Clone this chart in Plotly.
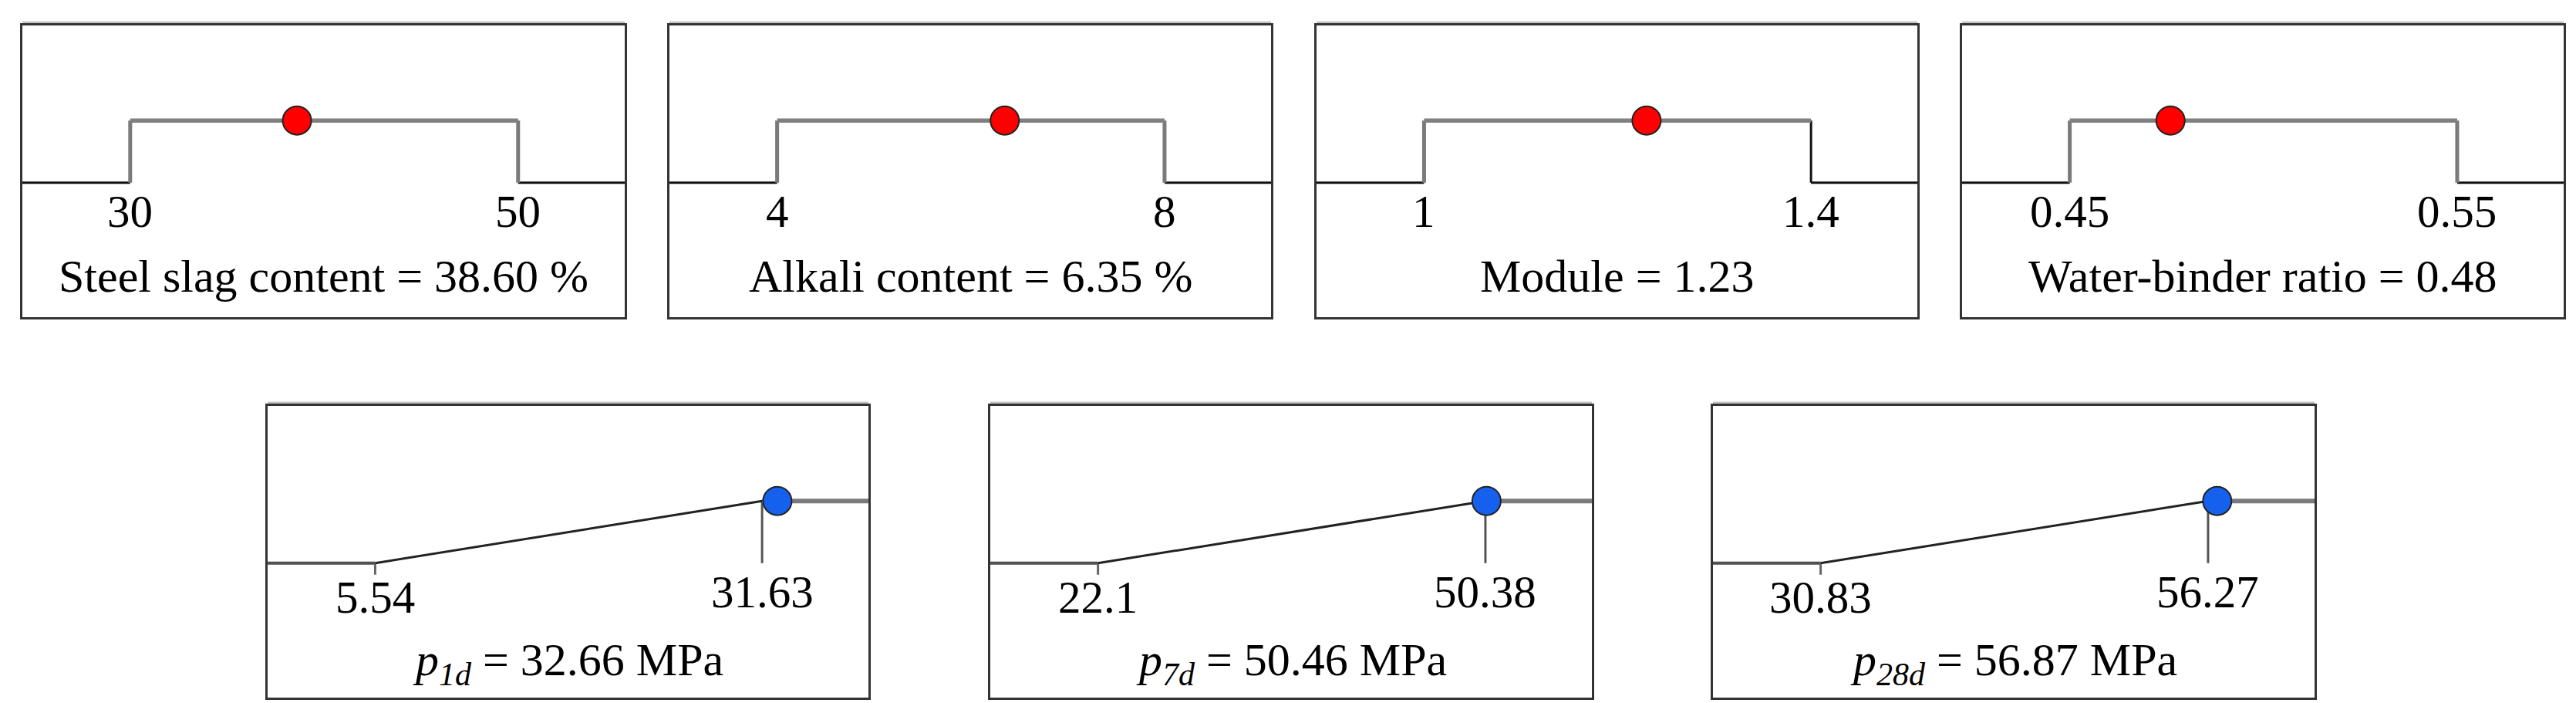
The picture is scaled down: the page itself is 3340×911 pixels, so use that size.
import plotly.graph_objects as go

# ---------------- data ----------------
factor_names = ["Steel slag content", "Alkali content", "Module", "Water-binder ratio"]
factor_low = [30, 4, 1, 0.45]
factor_high = [50, 8, 1.4, 0.55]
factor_low_labels = ["30", "4", "1", "0.45"]
factor_high_labels = ["50", "8", "1.4", "0.55"]
factor_opt = [38.60, 6.35, 1.23, 0.476]
factor_opt_labels = ["38.60", "6.35", "1.23", "0.48"]
factor_units = [" %", " %", "", ""]

response_subs = ["1d", "7d", "28d"]
response_low = [5.54, 22.1, 30.83]
response_high = [31.63, 50.38, 56.27]
response_low_labels = ["5.54", "22.1", "30.83"]
response_high_labels = ["31.63", "50.38", "56.27"]
response_pred = [32.66, 50.46, 56.87]
response_pred_labels = ["32.66", "50.46", "56.87"]
response_unit = " MPa"

desir_low = 0
desir_high = 1

# ---------------- layout geometry / styles ----------------
W, H = 3340, 911
top_boxes = [(21, 802), (860, 1640), (1699, 2478), (2536, 3316)]
top_y = (25, 403)
bot_boxes = [(339, 1118), (1276, 2056), (2213, 2993)]
bot_y = (518, 896)
F1, F2 = 0.179, 0.823          # where low/high limits sit inside the box
YLO, YHI = 0.461, 0.674         # where desirability 0/1 sit inside the box
yspan = (desir_high - desir_low) / (YHI - YLO)
ymin = desir_low - YLO * yspan
ymax = ymin + yspan

FONT = "Liberation Serif, Times New Roman, serif"
FS_TICK = 59
FS_TITLE = 60
RED = "#FF0000"
BLUE = "#1660EE"
rise_colors = ["#7a7a7a", "#7a7a7a", "#7a7a7a", "#7a7a7a"]
fall_colors = ["#7a7a7a", "#7a7a7a", "#111111", "#7a7a7a"]
fall_widths = [5, 5, 3, 5]


def xrange_for(lo, hi):
    span = (hi - lo) / (F2 - F1)
    xmin = lo - F1 * span
    return xmin, xmin + span


fig = go.Figure()
layout = dict(
    width=W, height=H, margin=dict(l=0, r=0, t=0, b=0),
    paper_bgcolor="white", plot_bgcolor="white", showlegend=False,
    font=dict(family=FONT, color="black"),
)
annotations = []
shapes = []


def sfx(i):
    return "" if i == 1 else str(i)


def add_axes(i, box, ybox, xr):
    ax = dict(showgrid=False, zeroline=False, showticklabels=False, ticks="",
              showline=True, mirror=True, linecolor="#333333", linewidth=3,
              fixedrange=True)
    layout["xaxis" + sfx(i)] = dict(ax, domain=[box[0] / W, box[1] / W], range=list(xr),
                                    anchor="y" + sfx(i))
    layout["yaxis" + sfx(i)] = dict(ax, domain=[1 - ybox[1] / H, 1 - ybox[0] / H],
                                    range=[ymin, ymax], anchor="x" + sfx(i))
    # light shadow band above the top border
    shapes.append(dict(type="line", xref="x" + sfx(i) + " domain", yref="y" + sfx(i) + " domain",
                       ysizemode="pixel", yanchor=1, x0=0, x1=1, y0=4, y1=4,
                       line=dict(color="#c4c4c4", width=3), layer="below"))


def line(i, xs, ys, color, width):
    fig.add_trace(go.Scatter(x=xs, y=ys, mode="lines", xaxis="x" + sfx(i), yaxis="y" + sfx(i),
                             line=dict(color=color, width=width),
                             hoverinfo="skip", showlegend=False))


def point(i, xv, yv, color):
    fig.add_trace(go.Scatter(x=[xv], y=[yv], mode="markers", xaxis="x" + sfx(i), yaxis="y" + sfx(i),
                             marker=dict(size=37, color=color, line=dict(color="#222222", width=2)),
                             hoverinfo="x", showlegend=False))


def label(i, x, y, text, size, xdomain=False):
    annotations.append(dict(x=x, xref=("x" + sfx(i) + (" domain" if xdomain else "")),
                            y=y, yref="y" + sfx(i) + " domain", text=text, showarrow=False,
                            xanchor="center", yanchor="middle",
                            font=dict(size=size, family=FONT, color="black")))


# ---------------- factor panels (top row) ----------------
for k in range(4):
    i = k + 1
    lo, hi = factor_low[k], factor_high[k]
    xmin, xmax = xrange_for(lo, hi)
    add_axes(i, top_boxes[k], top_y, (xmin, xmax))
    line(i, [xmin, lo, None, hi, xmax], [desir_low, desir_low, None, desir_low, desir_low], "#111111", 3)
    line(i, [lo, lo], [desir_low, desir_high], rise_colors[k], 5)
    line(i, [hi, hi], [desir_high, desir_low], fall_colors[k], fall_widths[k])
    line(i, [lo, hi], [desir_high, desir_high], "#808080", 5.5)
    point(i, factor_opt[k], desir_high, RED)
    label(i, lo, 0.363, factor_low_labels[k], FS_TICK)
    label(i, hi, 0.363, factor_high_labels[k], FS_TICK)
    label(i, 0.5, 0.14, f"{factor_names[k]} = {factor_opt_labels[k]}{factor_units[k]}",
          FS_TITLE, xdomain=True)

# ---------------- response panels (bottom row) ----------------
tick_len = 15 / ((bot_y[1] - bot_y[0]) / yspan)
for k in range(3):
    i = k + 5
    lo, hi = response_low[k], response_high[k]
    xmin, xmax = xrange_for(lo, hi)
    add_axes(i, bot_boxes[k], bot_y, (xmin, xmax))
    line(i, [xmin, lo], [desir_low, desir_low], "#505050", 4)
    line(i, [lo, lo], [desir_low, desir_low - tick_len], "#666666", 3)
    line(i, [hi, hi], [desir_high, desir_low], "#555555", 3)
    line(i, [lo, hi], [desir_low, desir_high], "#222222", 3)
    line(i, [hi, xmax], [desir_high, desir_high], "#7a7a7a", 6)
    point(i, response_pred[k], desir_high, BLUE)
    label(i, lo, 0.344, response_low_labels[k], FS_TICK)
    label(i, hi, 0.362, response_high_labels[k], FS_TICK)
    label(i, 0.5, 0.119,
          f"<i>p</i><sub style='font-style:italic'>{response_subs[k]}</sub>"
          f" = {response_pred_labels[k]}{response_unit}", FS_TITLE, xdomain=True)

layout["annotations"] = annotations
layout["shapes"] = shapes
fig.update_layout(**layout)
fig.write_html("out.html")
